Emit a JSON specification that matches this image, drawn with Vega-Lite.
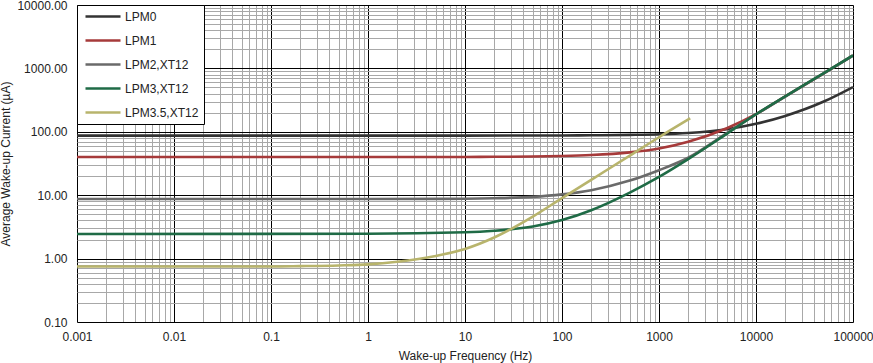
{
  "$schema": "https://vega.github.io/schema/vega-lite/v6.json",
  "autosize": {"type": "none"},
  "padding": {"left": 77, "top": 5, "right": 20, "bottom": 41},
  "width": 776,
  "height": 317,
  "background": "#ffffff",
  "config": {
    "view": {"stroke": null},
    "font": "Liberation Sans",
    "axis": {"labelFont": "Liberation Sans", "titleFont": "Liberation Sans", "labelFontSize": 12, "titleFontSize": 12, "titleFontWeight": "normal", "labelColor": "#222222", "titleColor": "#222222"},
    "legend": {"labelFont": "Liberation Sans", "labelFontSize": 12, "labelColor": "#222222"}
  },
  "data": {
    "values": [
      {"series": "LPM0", "f": 0.001, "I": 87},
      {"series": "LPM0", "f": 1, "I": 87},
      {"series": "LPM0", "f": 10, "I": 87.1},
      {"series": "LPM0", "f": 100, "I": 87.5},
      {"series": "LPM0", "f": 200, "I": 88},
      {"series": "LPM0", "f": 500, "I": 89.5},
      {"series": "LPM0", "f": 1000, "I": 91.5},
      {"series": "LPM0", "f": 2000, "I": 96},
      {"series": "LPM0", "f": 5000, "I": 110},
      {"series": "LPM0", "f": 10000, "I": 134},
      {"series": "LPM0", "f": 20000, "I": 178},
      {"series": "LPM0", "f": 50000, "I": 300},
      {"series": "LPM0", "f": 100000, "I": 508},

      {"series": "LPM1", "f": 0.001, "I": 40},
      {"series": "LPM1", "f": 1, "I": 40},
      {"series": "LPM1", "f": 10, "I": 40.15},
      {"series": "LPM1", "f": 20, "I": 40.3},
      {"series": "LPM1", "f": 50, "I": 40.75},
      {"series": "LPM1", "f": 100, "I": 41.5},
      {"series": "LPM1", "f": 200, "I": 43},
      {"series": "LPM1", "f": 500, "I": 47.4},
      {"series": "LPM1", "f": 1000, "I": 54.5},
      {"series": "LPM1", "f": 2000, "I": 69.6},
      {"series": "LPM1", "f": 5000, "I": 114},
      {"series": "LPM1", "f": 10000, "I": 190},
      {"series": "LPM1", "f": 20000, "I": 362},
      {"series": "LPM1", "f": 50000, "I": 835},
      {"series": "LPM1", "f": 100000, "I": 1600},

      {"series": "LPM2,XT12", "f": 0.001, "I": 8.7},
      {"series": "LPM2,XT12", "f": 1, "I": 8.7},
      {"series": "LPM2,XT12", "f": 10, "I": 8.8},
      {"series": "LPM2,XT12", "f": 20, "I": 8.95},
      {"series": "LPM2,XT12", "f": 50, "I": 9.4},
      {"series": "LPM2,XT12", "f": 100, "I": 10.3},
      {"series": "LPM2,XT12", "f": 200, "I": 12},
      {"series": "LPM2,XT12", "f": 500, "I": 17},
      {"series": "LPM2,XT12", "f": 1000, "I": 24.8},
      {"series": "LPM2,XT12", "f": 2000, "I": 39},
      {"series": "LPM2,XT12", "f": 5000, "I": 95},
      {"series": "LPM2,XT12", "f": 10000, "I": 188},
      {"series": "LPM2,XT12", "f": 20000, "I": 360},
      {"series": "LPM2,XT12", "f": 50000, "I": 838},
      {"series": "LPM2,XT12", "f": 100000, "I": 1595},

      {"series": "LPM3,XT12", "f": 0.001, "I": 2.45},
      {"series": "LPM3,XT12", "f": 1, "I": 2.46},
      {"series": "LPM3,XT12", "f": 10, "I": 2.6},
      {"series": "LPM3,XT12", "f": 20, "I": 2.75},
      {"series": "LPM3,XT12", "f": 50, "I": 3.2},
      {"series": "LPM3,XT12", "f": 100, "I": 4.05},
      {"series": "LPM3,XT12", "f": 200, "I": 5.8},
      {"series": "LPM3,XT12", "f": 500, "I": 11},
      {"series": "LPM3,XT12", "f": 1000, "I": 19.4},
      {"series": "LPM3,XT12", "f": 2000, "I": 37},
      {"series": "LPM3,XT12", "f": 5000, "I": 93},
      {"series": "LPM3,XT12", "f": 10000, "I": 189},
      {"series": "LPM3,XT12", "f": 20000, "I": 362},
      {"series": "LPM3,XT12", "f": 50000, "I": 842},
      {"series": "LPM3,XT12", "f": 100000, "I": 1605},

      {"series": "LPM3.5,XT12", "f": 0.001, "I": 0.75},
      {"series": "LPM3.5,XT12", "f": 0.1, "I": 0.75},
      {"series": "LPM3.5,XT12", "f": 0.2, "I": 0.76},
      {"series": "LPM3.5,XT12", "f": 0.5, "I": 0.78},
      {"series": "LPM3.5,XT12", "f": 1, "I": 0.81},
      {"series": "LPM3.5,XT12", "f": 2, "I": 0.89},
      {"series": "LPM3.5,XT12", "f": 5, "I": 1.1},
      {"series": "LPM3.5,XT12", "f": 10, "I": 1.42},
      {"series": "LPM3.5,XT12", "f": 20, "I": 2.15},
      {"series": "LPM3.5,XT12", "f": 50, "I": 4.6},
      {"series": "LPM3.5,XT12", "f": 100, "I": 9.0},
      {"series": "LPM3.5,XT12", "f": 200, "I": 17.5},
      {"series": "LPM3.5,XT12", "f": 500, "I": 42},
      {"series": "LPM3.5,XT12", "f": 1000, "I": 82},
      {"series": "LPM3.5,XT12", "f": 2100, "I": 163}
    ]
  },
  "mark": {"type": "line", "strokeWidth": 2.6, "interpolate": "monotone", "clip": true},
  "encoding": {
    "x": {
      "field": "f", "type": "quantitative",
      "scale": {"type": "log", "domain": [0.001, 100000], "nice": false},
      "axis": {
        "title": "Wake-up Frequency (Hz)",
        "values": [0.001,0.002,0.003,0.004,0.005,0.006,0.007,0.008,0.009,0.01,0.02,0.03,0.04,0.05,0.06,0.07,0.08,0.09,0.1,0.2,0.3,0.4,0.5,0.6,0.7,0.8,0.9,1,2,3,4,5,6,7,8,9,10,20,30,40,50,60,70,80,90,100,200,300,400,500,600,700,800,900,1000,2000,3000,4000,5000,6000,7000,8000,9000,10000,20000,30000,40000,50000,60000,70000,80000,90000,100000],
        "format": "~g",
        "labelExpr": "indexof([0.001,0.01,0.1,1,10,100,1000,10000,100000], datum.value) >= 0 ? datum.label : ''",
        "labelOverlap": false,
        "labelFlush": false,
        "labelBound": false,
        "labelPadding": 9,
        "titlePadding": 8,
        "ticks": false,
        "domain": false,
        "grid": true,
        "gridWidth": 1,
        "gridOpacity": 1,
        "gridColor": {"condition": {"test": "indexof([0.001,0.01,0.1,1,10,100,1000,10000,100000], datum.value) >= 0", "value": "#000000"}, "value": "#a8a8a8"}
      }
    },
    "y": {
      "field": "I", "type": "quantitative",
      "scale": {"type": "log", "domain": [0.1, 10000], "nice": false},
      "axis": {
        "title": "Average Wake-up Current (µA)",
        "values": [0.1,0.2,0.3,0.4,0.5,0.6,0.7,0.8,0.9,1,2,3,4,5,6,7,8,9,10,20,30,40,50,60,70,80,90,100,200,300,400,500,600,700,800,900,1000,2000,3000,4000,5000,6000,7000,8000,9000,10000],
        "format": ".2f",
        "labelExpr": "indexof([0.1,1,10,100,1000,10000], datum.value) >= 0 ? datum.label : ''",
        "labelOverlap": false,
        "labelFlush": false,
        "labelBound": false,
        "labelPadding": 10,
        "titlePadding": 4,
        "ticks": false,
        "domain": false,
        "grid": true,
        "gridWidth": 1,
        "gridOpacity": 1,
        "gridColor": {"condition": {"test": "indexof([0.1,1,10,100,1000,10000], datum.value) >= 0", "value": "#000000"}, "value": "#a8a8a8"}
      }
    },
    "color": {
      "field": "series", "type": "nominal",
      "scale": {"domain": ["LPM0", "LPM1", "LPM2,XT12", "LPM3,XT12", "LPM3.5,XT12"], "range": ["#333333", "#a63a3a", "#6a6a6a", "#1f6b46", "#b8b46c"]},
      "legend": {
        "title": null,
        "orient": "none",
        "legendX": 0,
        "legendY": 0,
        "symbolType": "M-0.6,0H6.4",
        "symbolSize": 100,
        "symbolStrokeWidth": 2.6,
        "labelOffset": 30,
        "padding": 5,
        "rowPadding": 11,
        "strokeColor": "#000000",
        "fillColor": "#ffffff"
      }
    }
  }
}
